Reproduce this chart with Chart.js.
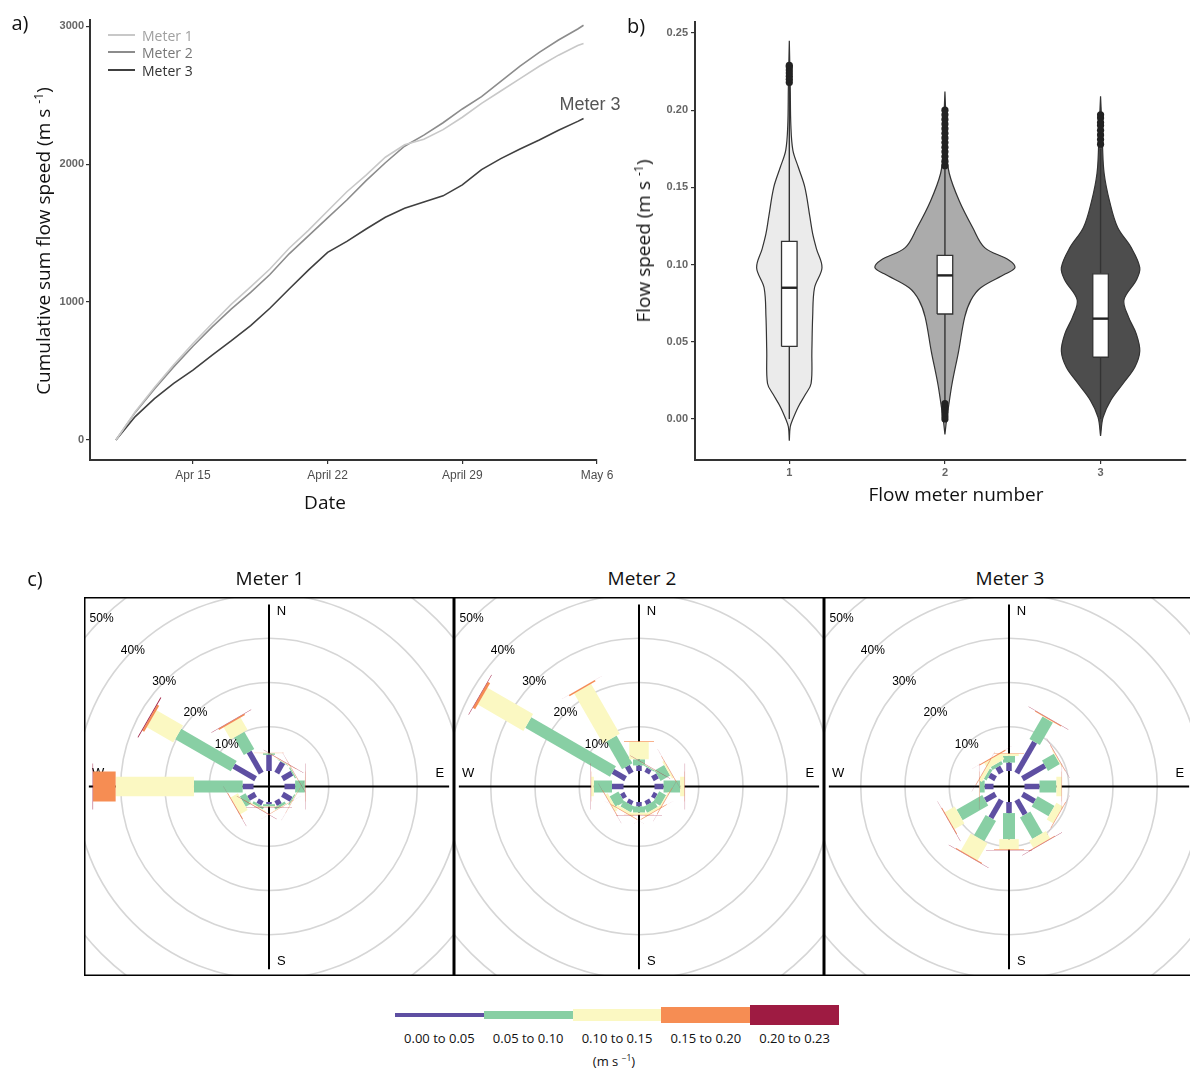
<!DOCTYPE html>
<html>
<head>
<meta charset="utf-8">
<script src="https://cdn.jsdelivr.net/npm/chart.js@4.4.0/dist/chart.umd.min.js"></script>
<style>
  body { margin: 0; background: #fff; overflow: hidden; }
  #fig { position: relative; width: 1190px; height: 1071px; font-family: "Open Sans", sans-serif; color: #111; }
  canvas { position: absolute; }
  .c { position: absolute; white-space: nowrap; transform: translate(-50%, -50%); }
  .rot { position: absolute; white-space: nowrap; transform: translate(-50%, -50%) rotate(-90deg); }
  sup { font-size: 65%; vertical-align: 0.55em; line-height: 0; }
  .leg { position: absolute; white-space: nowrap; font-size: 14px; transform: translateY(-50%); }
  .legline { position: absolute; height: 1.5px; width: 27px; }
  .bar { position: absolute; }
</style>
</head>
<body>
<div id="fig">
  <canvas id="cumChart" width="620" height="520" style="left:0;top:0"></canvas>
  <canvas id="violinChart" width="560" height="520" style="left:630px;top:0"></canvas>
  <canvas id="rose1" width="370" height="379" style="left:84px;top:597px"></canvas>
  <canvas id="rose2" width="370" height="379" style="left:454px;top:597px"></canvas>
  <canvas id="rose3" width="370" height="379" style="left:824px;top:597px"></canvas>

  <!-- panel a text -->
  <div class="c" style="left:20px;top:22px;font-size:20px">a)</div>
  <div class="rot" style="left:43px;top:241px;font-size:19px">Cumulative sum flow speed (m s <sup>-1</sup>)</div>
  <div class="c" style="left:325px;top:502px;font-size:19px">Date</div>
  <div class="legline" style="left:108px;top:34px;background:#c8c8c8"></div>
  <div class="leg" style="left:142px;top:35px;color:#a0a0a0">Meter 1</div>
  <div class="legline" style="left:108px;top:51px;background:#8c8c8c"></div>
  <div class="leg" style="left:142px;top:52px;color:#777">Meter 2</div>
  <div class="legline" style="left:108px;top:69px;background:#404040"></div>
  <div class="leg" style="left:142px;top:70px;color:#333">Meter 3</div>
  <div class="c" style="left:590px;top:104px;font-size:18px;color:#555;font-family:'Liberation Sans',sans-serif">Meter 3</div>

  <!-- panel b text -->
  <div class="c" style="left:636px;top:25px;font-size:20px">b)</div>
  <div class="rot" style="left:643px;top:241px;font-size:19px">Flow speed (m s <sup>-1</sup>)</div>
  <div class="c" style="left:956px;top:494px;font-size:19px">Flow meter number</div>

  <!-- panel c text -->
  <div class="c" style="left:35px;top:578px;font-size:20px">c)</div>
  <div class="c" style="left:270px;top:578px;font-size:19px">Meter 1</div>
  <div class="c" style="left:642px;top:578px;font-size:19px">Meter 2</div>
  <div class="c" style="left:1010px;top:578px;font-size:19px">Meter 3</div>
  <div id="roseLegend"></div>
</div>

<script>
// ---- panel a: cumulative flow, days counted from Apr 15 ----
var days = [-4, -3, -2, -1, 0, 1, 2, 3, 4, 5, 6, 7, 8, 9, 10, 11, 12, 13, 14, 15, 16, 17, 18, 19, 20, 20.3];
var meter1Cum = [0, 205, 380, 545, 700, 845, 985, 1110, 1240, 1390, 1520, 1660, 1800, 1920, 2050, 2140, 2180, 2250, 2340, 2440, 2530, 2620, 2710, 2790, 2860, 2875];
var meter2Cum = [0, 200, 370, 530, 680, 820, 950, 1070, 1200, 1350, 1480, 1610, 1740, 1880, 2010, 2130, 2210, 2300, 2400, 2490, 2600, 2710, 2810, 2900, 2980, 3007];
var meter3Cum = [0, 170, 300, 410, 507, 615, 720, 830, 955, 1095, 1232, 1360, 1440, 1530, 1615, 1680, 1725, 1770, 1850, 1960, 2040, 2110, 2175, 2245, 2310, 2331];
var dateTicks = [0, 7, 14, 21];
var dateLabels = ["Apr 15", "April 22", "April 29", "May 6"];
var cumTicks = [0, 1000, 2000, 3000];

// ---- panel b: violin + box summaries ----
var meters = [1, 2, 3];
var violin1Y = [-0.014, -0.005, 0.000, 0.008, 0.016, 0.023, 0.044, 0.066, 0.085, 0.098, 0.110, 0.120, 0.131, 0.150, 0.163, 0.174, 0.190, 0.215, 0.245];
var violin1W = [0, 0.006, 0.023, 0.058, 0.104, 0.140, 0.145, 0.150, 0.162, 0.210, 0.175, 0.150, 0.132, 0.100, 0.058, 0.023, 0.010, 0.006, 0];
var violin2Y = [-0.010, -0.001, 0.008, 0.023, 0.044, 0.066, 0.077, 0.085, 0.094, 0.098, 0.103, 0.111, 0.124, 0.141, 0.159, 0.175, 0.195, 0.212];
var violin2W = [0, 0.010, 0.023, 0.046, 0.088, 0.127, 0.167, 0.230, 0.390, 0.450, 0.410, 0.255, 0.178, 0.093, 0.028, 0.010, 0.006, 0];
var violin3Y = [-0.011, 0.001, 0.012, 0.023, 0.0335, 0.044, 0.055, 0.066, 0.077, 0.090, 0.098, 0.111, 0.124, 0.141, 0.159, 0.178, 0.195, 0.209];
var violin3W = [0, 0.016, 0.065, 0.145, 0.220, 0.252, 0.230, 0.180, 0.150, 0.230, 0.252, 0.197, 0.110, 0.058, 0.023, 0.012, 0.006, 0];
var boxQ1 = [0.047, 0.068, 0.040];
var boxMedian = [0.085, 0.093, 0.065];
var boxQ3 = [0.115, 0.106, 0.094];
var whiskerLow = [0.000, 0.011, 0.000];
var whiskerHigh = [0.216, 0.162, 0.175];
var outliers1 = [0.218, 0.220, 0.222, 0.224, 0.226, 0.228, 0.229];
var outliers2 = [0.000, 0.002, 0.004, 0.006, 0.008, 0.010, 0.164, 0.167, 0.170, 0.173, 0.176, 0.179, 0.182, 0.185, 0.188, 0.191, 0.194, 0.197, 0.200];
var outliers3 = [0.178, 0.181, 0.184, 0.187, 0.190, 0.192, 0.195, 0.197];
var speedTicks = [0, 0.05, 0.10, 0.15, 0.20, 0.25];
var violinFills = ["#ebebeb", "#ababab", "#4d4d4d"];

// ---- panel c: wind roses, % of time per direction, by speed class ----
var directions = [0, 30, 60, 90, 120, 150, 180, 210, 240, 270, 300, 330];
var speedBins = ["0.00 to 0.05", "0.05 to 0.10", "0.10 to 0.15", "0.15 to 0.20", "0.20 to 0.23"];
var binColors = ["#5e4fa2", "#88cfa4", "#fbf8c2", "#f68d53", "#9e1b42"];
// rows follow directions, columns follow speedBins
var roseMeter1 = [
  [3.65, 0.35, 0.05, 0.05, 0.02],
  [2.7, 0.15, 0.1, 0.1, 0.03],
  [2.5, 0.3, 0.1, 0.05, 0.03],
  [2.4, 2.2, 0.05, 0.05, 0.05],
  [2.3, 0.3, 0.1, 0.05, 0.02],
  [1.2, 0.6, 0.1, 0.05, 0.03],
  [0.5, 0.5, 0.1, 0.05, 0.03],
  [1.1, 0.6, 0.2, 0.1, 0.03],
  [1.85, 1.5, 1.9, 0.15, 0.03],
  [2.45, 11.0, 17.7, 5.1, 0.1],
  [5.7, 14.5, 6.9, 0.5, 0.2],
  [5.5, 4.5, 3.2, 0.3, 0.1]
];
var roseMeter2 = [
  [1.25, 1.4, 3.95, 0.15, 0.05],
  [1.1, 0.3, 0.1, 0.05, 0.03],
  [1.35, 2.5, 0.4, 0.1, 0.03],
  [2.05, 3.75, 1.0, 0.05, 0.05],
  [1.0, 1.8, 0.3, 0.1, 0.03],
  [1.0, 1.6, 0.5, 0.1, 0.03],
  [1.0, 1.4, 0.5, 0.05, 0.03],
  [1.0, 1.5, 0.6, 0.1, 0.03],
  [1.1, 2.3, 0.6, 0.1, 0.03],
  [2.6, 4.1, 0.6, 0.05, 0.05],
  [3.3, 22.1, 11.9, 0.6, 0.1],
  [1.8, 7.2, 13.0, 0.3, 0.05]
];
var roseMeter3 = [
  [1.9, 1.5, 0.5, 0.1, 0.03],
  [8.1, 5.9, 0.1, 0.2, 0.05],
  [5.9, 3.1, 0.2, 0.1, 0.05],
  [3.4, 3.8, 1.2, 0.05, 0.03],
  [3.2, 4.4, 1.7, 0.1, 0.03],
  [3.8, 5.6, 1.9, 0.15, 0.05],
  [2.5, 5.9, 2.3, 0.15, 0.03],
  [4.7, 5.3, 4.5, 0.2, 0.05],
  [2.7, 6.7, 2.6, 0.15, 0.05],
  [2.0, 1.1, 0.1, 0.05, 0.03],
  [1.6, 0.7, 0.8, 0.1, 0.03],
  [1.6, 0.8, 1.5, 0.2, 0.05]
];
var ringPcts = [10, 20, 30, 40, 50];

var tickFont = { family: "Liberation Sans", size: 12 };
var tickColor = "#4d4d4d";
var smallTickFont = { family: "Liberation Sans", size: 11, weight: "bold" };
// a near-solid dash keeps Chart.js off its fast line path, which zig-zags very short segments
var SOLID = [100000, 0.001];

// ---------------- panel a ----------------
function series(ys) {
  return days.map(function(d, i) { return { x: d, y: ys[i] }; });
}
new Chart(document.getElementById("cumChart"), {
  type: "line",
  data: {
    datasets: [
      { label: "Meter 1", data: series(meter1Cum), borderColor: "#c8c8c8", borderWidth: 1.6, pointRadius: 0, tension: 0 },
      { label: "Meter 2", data: series(meter2Cum), borderColor: "#8c8c8c", borderWidth: 1.6, pointRadius: 0, tension: 0 },
      { label: "Meter 3", data: series(meter3Cum), borderColor: "#404040", borderWidth: 1.6, pointRadius: 0, tension: 0 }
    ]
  },
  options: {
    responsive: false, animation: false, events: [],
    layout: { padding: { top: 20, right: 23, left: 0, bottom: 0 } },
    plugins: { legend: { display: false }, tooltip: { enabled: false } },
    scales: {
      x: {
        type: "linear", min: -5.35, max: 21,
        afterBuildTicks: function(s) { s.ticks = dateTicks.map(function(v) { return { value: v }; }); },
        afterFit: function(s) { s.height = 60; },
        ticks: { font: tickFont, color: tickColor, padding: 4, maxRotation: 0,
                 callback: function(v) { return dateLabels[dateTicks.indexOf(v)]; } },
        grid: { drawOnChartArea: false, tickLength: 4, color: "#333", lineWidth: 1.2 },
        border: { color: "#333", width: 2 }
      },
      y: {
        min: -145, max: 3045,
        afterBuildTicks: function(s) { s.ticks = cumTicks.map(function(v) { return { value: v }; }); },
        afterFit: function(s) { s.width = 90; },
        ticks: { font: smallTickFont, color: "#666", padding: 2,
                 callback: function(v) { return String(v); } },
        grid: { drawOnChartArea: false, tickLength: 4, color: "#333", lineWidth: 1.2 },
        border: { color: "#333", width: 2 }
      }
    }
  }
});

// ---------------- panel b ----------------
var violinY = [violin1Y, violin2Y, violin3Y];
var violinW = [violin1W, violin2W, violin3W];
var outlierSets = [outliers1, outliers2, outliers3];
var BOX_HALF = 0.05;
var violinDatasets = [];
meters.forEach(function(m, k) {
  var ys = violinY[k], ws = violinW[k];
  var pts = [];
  for (var i = 0; i < ys.length; i++) pts.push({ x: m + ws[i], y: ys[i] });
  for (var j = ys.length - 1; j >= 0; j--) pts.push({ x: m - ws[j], y: ys[j] });
  violinDatasets.push({ data: pts, borderColor: "#333", borderWidth: 1.2, backgroundColor: violinFills[k],
                        fill: "shape", pointRadius: 0, tension: 0.35, order: 5 });
  violinDatasets.push({ data: [{ x: m, y: whiskerLow[k] }, { x: m, y: whiskerHigh[k] }],
                        borderColor: "#333", borderWidth: 1.4, pointRadius: 0, borderDash: SOLID, order: 4 });
  violinDatasets.push({ data: [{ x: m - BOX_HALF, y: boxQ1[k] }, { x: m + BOX_HALF, y: boxQ1[k] }, { x: m + BOX_HALF, y: boxQ3[k] },
                               { x: m - BOX_HALF, y: boxQ3[k] }, { x: m - BOX_HALF, y: boxQ1[k] }],
                        borderColor: "#333", borderWidth: 1.3, backgroundColor: "#fff", fill: "shape", pointRadius: 0,
                        borderDash: SOLID, order: 3 });
  violinDatasets.push({ data: [{ x: m - BOX_HALF, y: boxMedian[k] }, { x: m + BOX_HALF, y: boxMedian[k] }],
                        borderColor: "#222", borderWidth: 2.4, pointRadius: 0, order: 2 });
  violinDatasets.push({ data: outlierSets[k].map(function(v) { return { x: m, y: v }; }), showLine: false,
                        pointRadius: 3.6, pointBackgroundColor: "#222", pointBorderWidth: 0, order: 1 });
});
new Chart(document.getElementById("violinChart"), {
  type: "line",
  data: { datasets: violinDatasets },
  options: {
    responsive: false, animation: false, events: [],
    layout: { padding: { top: 22, right: 0, left: 0, bottom: 0 } },
    plugins: { legend: { display: false }, tooltip: { enabled: false } },
    scales: {
      x: {
        type: "linear", min: 0.394, max: 3.549,
        afterBuildTicks: function(s) { s.ticks = meters.map(function(v) { return { value: v }; }); },
        afterFit: function(s) { s.height = 60; },
        ticks: { font: smallTickFont, color: "#666", padding: 2 },
        grid: { drawOnChartArea: false, tickLength: 4, color: "#333", lineWidth: 1.2 },
        border: { color: "#333", width: 2 }
      },
      y: {
        min: -0.02655, max: 0.2571,
        afterBuildTicks: function(s) { s.ticks = speedTicks.map(function(v) { return { value: v }; }); },
        afterFit: function(s) { s.width = 65; },
        ticks: { font: smallTickFont, color: "#666", padding: 3,
                 callback: function(v) { return v.toFixed(2); } },
        grid: { drawOnChartArea: false, tickLength: 4, color: "#333", lineWidth: 1.2 },
        border: { color: "#333", width: 2 }
      }
    }
  }
});

// ---------------- panel c ----------------
var HOLE = 3.5;                 // empty centre, in % units
var paddleWidths = [5.5, 12, 19.5, 30, 46];
var compass = [["N", 2.8, 39.5], ["E", 38.6, 3.0], ["S", 2.8, -39.5], ["W", -38.6, 3.0]];

var roseDecor = {
  id: "roseDecor",
  beforeDatasetsDraw: function(chart) {
    var ctx = chart.ctx, a = chart.chartArea, x = chart.scales.x, y = chart.scales.y;
    var cx = x.getPixelForValue(0), cy = y.getPixelForValue(0);
    ctx.save();
    ctx.beginPath(); ctx.rect(a.left, a.top, a.width, a.height); ctx.clip();
    ctx.strokeStyle = "#d6d6d6"; ctx.lineWidth = 1.6;
    ringPcts.forEach(function(p) {
      var r = x.getPixelForValue(HOLE + p) - cx;
      ctx.beginPath(); ctx.arc(cx, cy, r, 0, Math.PI * 2); ctx.stroke();
    });
    ctx.strokeStyle = "#000"; ctx.lineWidth = 2;
    ctx.beginPath();
    ctx.moveTo(cx, y.getPixelForValue(41.1)); ctx.lineTo(cx, y.getPixelForValue(-41.3));
    ctx.moveTo(x.getPixelForValue(-40.7), cy); ctx.lineTo(x.getPixelForValue(40.7), cy);
    ctx.stroke();
    ctx.fillStyle = "#000"; ctx.font = "13px 'Liberation Sans'";
    ctx.textAlign = "center"; ctx.textBaseline = "middle";
    compass.forEach(function(c) { ctx.fillText(c[0], x.getPixelForValue(c[1]), y.getPixelForValue(c[2])); });
    ctx.restore();
  },
  afterDatasetsDraw: function(chart) {
    var ctx = chart.ctx, a = chart.chartArea, x = chart.scales.x, y = chart.scales.y;
    ctx.save();
    ctx.fillStyle = "#000"; ctx.font = "12px 'Liberation Sans'";
    ctx.textAlign = "center"; ctx.textBaseline = "middle";
    ringPcts.forEach(function(p) {
      var r = HOLE + p;
      ctx.fillText(p + "%", x.getPixelForValue(-r * Math.SQRT1_2), y.getPixelForValue(r * Math.SQRT1_2));
    });
    ctx.strokeStyle = "#000"; ctx.lineWidth = 2;
    ctx.strokeRect(a.left + 0.5, a.top + 0.5, a.width - 1, a.height - 1);
    ctx.restore();
  }
};

function roseDatasets(rows) {
  var sets = [];
  rows.forEach(function(row, i) {
    var ang = directions[i] * Math.PI / 180;
    var r0 = HOLE;
    row.forEach(function(v, c) {
      if (v <= 0) return;
      var r1 = r0 + v;
      sets.push({
        data: [{ x: r0 * Math.sin(ang), y: r0 * Math.cos(ang) }, { x: r1 * Math.sin(ang), y: r1 * Math.cos(ang) }],
        borderColor: binColors[c], borderWidth: paddleWidths[c], borderCapStyle: "butt",
        borderDash: SOLID, tension: 0,
        showLine: true, pointRadius: 0, order: 5 - c
      });
      r0 = r1;
    });
  });
  return sets;
}

function drawRose(id, rows) {
  new Chart(document.getElementById(id), {
    type: "scatter",
    data: { datasets: roseDatasets(rows) },
    options: {
      responsive: false, animation: false, events: [],
      layout: { padding: 0 },
      plugins: { legend: { display: false }, tooltip: { enabled: false } },
      scales: {
        x: { display: false, min: -41.8, max: 41.8 },
        y: { display: false, min: -42.8, max: 42.8 }
      }
    },
    plugins: [roseDecor]
  });
}
drawRose("rose1", roseMeter1);
drawRose("rose2", roseMeter2);
drawRose("rose3", roseMeter3);

// colour key under the roses
var legendBox = document.getElementById("roseLegend");
var keyHeights = [4, 8, 12, 16, 20];
speedBins.forEach(function(label, i) {
  var left = 395 + i * 88.8;
  var bar = document.createElement("div");
  bar.className = "bar";
  bar.style.left = left + "px";
  bar.style.width = "89px";
  bar.style.top = (1014.5 - keyHeights[i] / 2) + "px";
  bar.style.height = keyHeights[i] + "px";
  bar.style.background = binColors[i];
  legendBox.appendChild(bar);
  var txt = document.createElement("div");
  txt.className = "c";
  txt.style.left = (left + 44.4) + "px";
  txt.style.top = "1038px";
  txt.style.fontSize = "13px";
  txt.innerText = label;
  legendBox.appendChild(txt);
});
var unit = document.createElement("div");
unit.className = "c";
unit.style.left = "614px";
unit.style.top = "1061px";
unit.style.fontSize = "13px";
unit.innerHTML = "(m s <sup>&minus;1</sup>)";
legendBox.appendChild(unit);
</script>
</body>
</html>
